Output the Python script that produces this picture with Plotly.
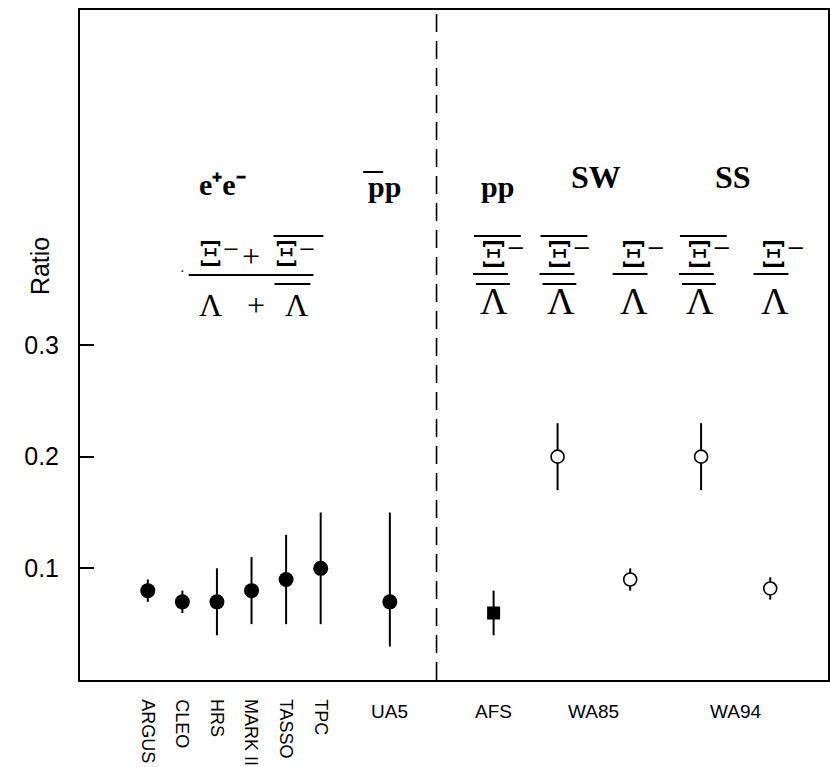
import plotly.graph_objects as go

# ---------------- data ----------------
ee_names = ["ARGUS", "CLEO", "HRS", "MARK II", "TASSO", "TPC", "UA5"]
ee_x = [2, 3, 4, 5, 6, 7, 9]
ee_val = [0.08, 0.07, 0.07, 0.08, 0.09, 0.10, 0.07]
ee_hi = [0.09, 0.08, 0.10, 0.11, 0.13, 0.15, 0.15]
ee_lo = [0.07, 0.06, 0.04, 0.05, 0.05, 0.05, 0.03]

afs_x = [12]
afs_val = [0.06]
afs_hi = [0.08]
afs_lo = [0.04]

wa_x = [13.85, 15.95, 18, 20]
wa_val = [0.20, 0.09, 0.20, 0.082]
wa_hi = [0.23, 0.10, 0.23, 0.092]
wa_lo = [0.17, 0.08, 0.17, 0.072]

group_labels = ["AFS", "WA85", "WA94"]
group_label_x = [12, 14.9, 19]
divider_x = 10.35

y_ticks = [0.1, 0.2, 0.3]
y_tick_text = ["0.1", "0.2", "0.3"]

# ---------------- layout helpers ----------------
W, H = 830, 767
L, R, T, B = 80, 0, 10, 87


def xp(px):
    return (px - L) / (W - L - R)


def yp(py):
    return (H - B - py) / (H - T - B)


SERIF = "Liberation Serif"
DSERIF = "DejaVu Serif"
SANS = "Liberation Sans"

fig = go.Figure()


def err(vals, hi, lo):
    return dict(type="data", symmetric=False,
                array=[h - v for h, v in zip(hi, vals)],
                arrayminus=[v - l for v, l in zip(vals, lo)],
                color="black", thickness=2, width=0)


fig.add_trace(go.Scatter(x=ee_x, y=ee_val, mode="markers",
                         marker=dict(symbol="circle", size=15, color="black"),
                         error_y=err(ee_val, ee_hi, ee_lo), showlegend=False))
fig.add_trace(go.Scatter(x=afs_x, y=afs_val, mode="markers",
                         marker=dict(symbol="square", size=13, color="black"),
                         error_y=err(afs_val, afs_hi, afs_lo), showlegend=False))
fig.add_trace(go.Scatter(x=wa_x, y=wa_val, mode="markers",
                         marker=dict(symbol="circle", size=13, color="white",
                                     line=dict(color="black", width=1.6)),
                         error_y=err(wa_val, wa_hi, wa_lo), showlegend=False))

annotations = []
shapes = []

# divider
shapes.append(dict(type="line", xref="x", yref="paper", x0=divider_x, x1=divider_x,
                   y0=0, y1=1, line=dict(color="black", width=1.6, dash="18px,9px")))

# x labels
for name, x in zip(ee_names, ee_x):
    if name == "UA5":
        annotations.append(dict(text=name, x=x, y=yp(699), xref="x", yref="paper",
                                xanchor="center", yanchor="top", showarrow=False,
                                font=dict(family=SANS, size=19, color="black")))
    else:
        annotations.append(dict(text=name, x=x, y=yp(697), xref="x", yref="paper",
                                xanchor="center", yanchor="top", showarrow=False,
                                textangle=90,
                                font=dict(family=SANS, size=18, color="black")))
for name, x in zip(group_labels, group_label_x):
    annotations.append(dict(text=name, x=x, y=yp(699), xref="x", yref="paper",
                            xanchor="center", yanchor="top", showarrow=False,
                            font=dict(family=SANS, size=19, color="black")))

# y title
annotations.append(dict(text="Ratio", x=xp(40), y=yp(266), xref="paper", yref="paper",
                        xanchor="center", yanchor="middle", showarrow=False, textangle=-90,
                        font=dict(family=SANS, size=25, color="black")))


def txt(text, px, py, size, bold=False, family=SERIF, anchor="center"):
    annotations.append(dict(text=text,
                            x=xp(px), y=yp(py), xref="paper", yref="paper",
                            xanchor=anchor, yanchor="middle", showarrow=False,
                            font=dict(family=family, size=size, color="black",
                                      weight=("bold" if bold else "normal"))))


def hline(x0, x1, y, w=1.8):
    shapes.append(dict(type="line", xref="paper", yref="paper",
                       x0=xp(x0), x1=xp(x1), y0=yp(y), y1=yp(y),
                       line=dict(color="black", width=w)))


def xi(px_left, py, size):
    # Xi with a superscript minus (unicode superscript)
    txt("Ξ⁻", px_left, py, size, family=DSERIF, anchor="left")


# headers
txt("e⁺e⁻", 223, 185, 30, bold=True)
txt("pp", 385, 186, 30, bold=True)
hline(364, 384, 172, 2)
txt("pp", 499, 186, 30, bold=True)
txt("SW", 597, 177, 32, bold=True)
txt("SS", 735, 177, 32, bold=True)

# big fraction
FS = 32
xi(197, 255, 33)
txt("+", 251, 256, FS)
xi(274, 255, 33)
hline(274, 324, 236)
hline(189, 314, 275)
txt("·", 183, 271, 14)
txt("Λ", 211, 305, FS)
txt("+", 256, 305, FS)
txt("Λ", 297, 305, FS)
hline(275, 311, 284)

# right fractions
FR = 38
centers = [495, 561.7, 635, 701.5, 776.3]
barred = [True, True, False, True, False]
for c, b in zip(centers, barred):
    xi(c - 15, 255, 36)
    hline(c - 21, c + 14, 274)
    txt("Λ", c + 0.5, 301, FR)
    if b:
        hline(c - 20, c + 27, 236)
        hline(c - 18, c + 16, 284)

fig.update_layout(
    width=W, height=H,
    margin=dict(l=L, r=R, t=T, b=B),
    paper_bgcolor="white", plot_bgcolor="white",
    xaxis=dict(range=[0.04, 21.67], showgrid=False, zeroline=False,
               showticklabels=False, ticks="", showline=True, linecolor="black",
               linewidth=2, mirror=True),
    yaxis=dict(range=[0, 0.6], showgrid=False, zeroline=False,
               tickvals=y_ticks, ticktext=y_tick_text, ticks="inside", ticklen=14,
               tickwidth=1.5, tickcolor="black", showline=True, linecolor="black",
               linewidth=2, mirror=True, ticklabelstandoff=14,
               tickfont=dict(family=SANS, size=25, color="black")),
    annotations=annotations,
    shapes=shapes,
)

fig.write_html("out.html")
